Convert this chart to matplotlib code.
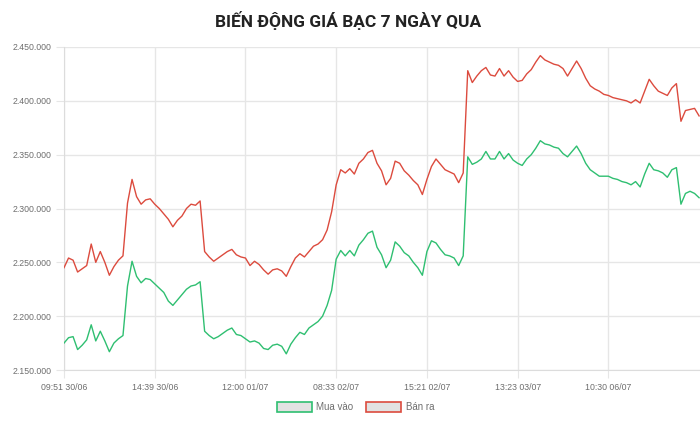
import matplotlib
matplotlib.use("Agg")
import matplotlib.pyplot as plt
from matplotlib.patches import Patch
from matplotlib.ticker import FixedLocator, FuncFormatter

# Giá bạc (nghìn đồng / lượng), 141 điểm
ban_ra = [
    2245, 2254, 2252, 2241, 2244, 2247, 2267, 2250, 2260, 2250,
    2238, 2246, 2252, 2256, 2305, 2327, 2311, 2304, 2308, 2309,
    2304, 2300, 2295, 2290, 2283, 2289, 2293, 2300, 2304, 2303,
    2307, 2260, 2255, 2251, 2254, 2257, 2260, 2262, 2257, 2255,
    2254, 2247, 2251, 2248, 2243, 2239, 2243, 2244, 2242, 2237,
    2246, 2254, 2258, 2255, 2260, 2265, 2267, 2271, 2280, 2297,
    2322, 2336, 2333, 2337, 2332, 2342, 2346, 2352, 2354, 2342,
    2335, 2322, 2328, 2344, 2342, 2335, 2331, 2326, 2322, 2313,
    2327, 2339, 2346, 2341, 2336, 2334, 2332, 2324, 2333, 2428,
    2417, 2423, 2428, 2431, 2424, 2423, 2430, 2423, 2428, 2422,
    2418, 2419, 2425, 2429, 2436, 2442, 2438, 2436, 2434, 2433,
    2430, 2423, 2430, 2437, 2430, 2421, 2414, 2411, 2409, 2406,
    2405, 2403, 2402, 2401, 2400, 2398, 2401, 2398, 2409, 2420,
    2414, 2409, 2407, 2405, 2412, 2416, 2381, 2391, 2392, 2393,
    2386,
]

mua_vao = [
    2175, 2180, 2181, 2169, 2173, 2178, 2192, 2177, 2186, 2177,
    2167, 2175, 2179, 2182, 2228, 2251, 2237, 2231, 2235, 2234,
    2230, 2226, 2222, 2214, 2210, 2215, 2220, 2225, 2228, 2229,
    2232, 2186, 2182, 2179, 2181, 2184, 2187, 2189, 2183, 2182,
    2179, 2176, 2177, 2175, 2170, 2169, 2173, 2174, 2172, 2165,
    2174, 2180, 2185, 2183, 2189, 2192, 2195, 2200, 2210, 2224,
    2253, 2261, 2256, 2261, 2256, 2266, 2271, 2277, 2279, 2264,
    2257, 2245, 2252, 2269, 2265, 2259, 2256, 2250, 2245, 2238,
    2260, 2270, 2268, 2262, 2257, 2256, 2254, 2247, 2256, 2348,
    2341, 2343, 2346, 2353, 2346, 2346, 2353, 2346, 2351, 2345,
    2342, 2340, 2346, 2350, 2356, 2363, 2360, 2359, 2357, 2356,
    2351, 2348, 2353, 2358, 2351, 2342, 2336, 2333, 2330, 2330,
    2330, 2328, 2327, 2325, 2324, 2322, 2325, 2320, 2332, 2342,
    2336, 2335, 2333, 2329, 2336, 2338, 2304, 2314, 2316, 2314,
    2310,
]

nhan_thoi_gian = ["09:51 30/06", "14:39 30/06", "12:00 01/07", "08:33 02/07",
                  "15:21 02/07", "13:23 03/07", "10:30 06/07"]
buoc_nhan = 20

MAU_MUA = "#2fbf71"
MAU_BAN = "#dc4b3e"
MAU_LUOI = "#e6e6e6"
MAU_CHU = "#6e6e6e"


def dinh_dang_gia(v, pos):
    return f"{int(round(v)):,}".replace(",", ".")


def ve_bieu_do():
    fig = plt.figure(figsize=(7, 4.22), dpi=100)
    ax = fig.add_axes([64 / 700, 1 - 370 / 422, 636 / 700, 323 / 422])

    x = list(range(len(ban_ra)))
    ax.plot(x, [v * 1000 for v in ban_ra], color=MAU_BAN, lw=1.0, zorder=3)
    ax.plot(x, [v * 1000 for v in mua_vao], color=MAU_MUA, lw=1.0, zorder=3)

    ax.set_xlim(0, len(ban_ra) - 0.8)
    ax.set_ylim(2150000, 2450000)

    ax.xaxis.set_major_locator(FixedLocator([i * buoc_nhan for i in range(len(nhan_thoi_gian))]))
    ax.set_xticklabels(nhan_thoi_gian)
    ax.yaxis.set_major_locator(FixedLocator(range(2150000, 2450001, 50000)))
    ax.yaxis.set_major_formatter(FuncFormatter(dinh_dang_gia))

    ax.grid(True, color=MAU_LUOI, lw=1)
    ax.set_axisbelow(True)
    for s in ["top", "right"]:
        ax.spines[s].set_visible(False)
    for s in ["left", "bottom"]:
        ax.spines[s].set_color("#dcdcdc")
    ax.tick_params(length=6, color=MAU_LUOI, labelcolor=MAU_CHU, labelsize=6.3, pad=3)
    for t in ax.get_xticklabels() + ax.get_yticklabels():
        t.set_family("Liberation Sans")

    fig.text(0.497, 0.952, "BIẾN ĐỘNG GIÁ BẠC 7 NGÀY QUA", ha="center", va="center",
             fontsize=12.5, fontweight="bold", family="Roboto", color="#222222")

    handles = [Patch(facecolor="#e2e2e2", edgecolor=MAU_MUA, lw=1.2, label="Mua vào"),
               Patch(facecolor="#e2e2e2", edgecolor=MAU_BAN, lw=1.2, label="Bán ra")]
    fig.legend(handles=handles, loc="center", bbox_to_anchor=(0.508, 0.036), ncol=2,
               frameon=False, handlelength=3.6, handleheight=1.2, handletextpad=0.5,
               columnspacing=1.3, prop={"family": "Liberation Sans", "size": 7},
               labelcolor=MAU_CHU)

    fig.savefig("out.png", dpi=100)
    plt.close(fig)


def main():
    ve_bieu_do()


if __name__ == "__main__":
    main()
